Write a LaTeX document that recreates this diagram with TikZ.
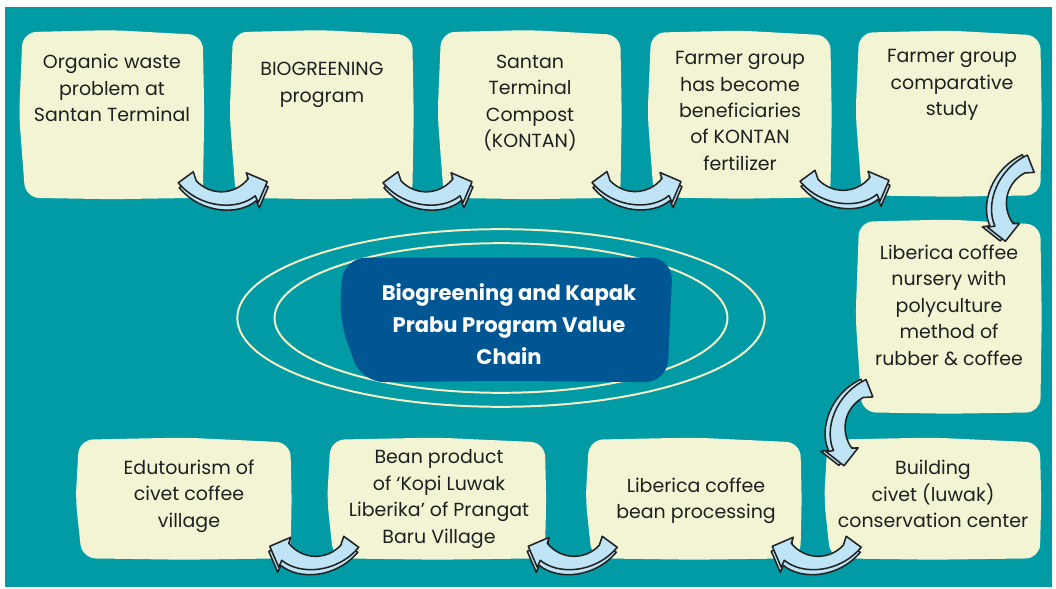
\documentclass[tikz,border=0pt]{standalone}
\usepackage{fontspec}
\setmainfont{Poppins}
\usetikzlibrary{positioning,calc}

\definecolor{tealbg}{RGB}{0,155,165}
\definecolor{paper}{RGB}{242,244,212}
\definecolor{chainblue}{RGB}{0,86,146}
\definecolor{ringline}{RGB}{247,240,196}
\definecolor{arrowfill}{RGB}{190,228,246}
\definecolor{inkline}{RGB}{35,35,35}

\tikzset{
  box/.style = {rectangle, inner sep=0pt},
  txt/.style = {align=center, text=black!88, font=\fontsize{13.5}{18.8}\selectfont},
  title/.style = {align=center, text=white, font=\bfseries\fontsize{15}{22.8}\selectfont},
  ring/.style = {draw=ringline, line width=1.4pt},
  swoosh/.style = {fill=arrowfill, draw=inkline, line width=1.1pt, line join=round},
}

% outline of one curled arrow, tail left, head right
\newcommand{\curlpath}{(-44,-8) -- (-29,-19) -- (-26,-10) .. controls (-12,5) and (12,5) .. (26,-12) -- (24,-18) -- (45,-9) -- (36,12) -- (33,5) .. controls (15,20) and (-22,18) .. cycle}
\tikzset{curl/.pic={
  \filldraw[swoosh, shift={(1,5)}] \curlpath;
  \filldraw[swoosh] \curlpath;
}}

% paper sheet behind a box node
\newcommand{\wavybox}[1]{%
  \fill[paper, rounded corners=10pt] ([xshift=3pt]#1.south west) -- ([xshift=-1.5pt]#1.west) -- ([xshift=1pt]#1.north west)
    -- ([yshift=1.5pt]#1.north) -- ([yshift=-2pt]#1.north east) -- ([xshift=1pt]#1.east)
    -- (#1.south east) -- ([yshift=-1pt]#1.south) -- cycle;}

\begin{document}
\begin{tikzpicture}[x=0.025cm, y=-0.025cm]
\useasboundingbox (0,0) rectangle (1056,589);
\fill[white] (0,0) rectangle (1056,589);
\fill[tealbg] (5,7) rectangle (1052,587);

% rings round the title
\draw[ring] (501,318) ellipse [x radius=6.59cm, y radius=2.22cm];
\draw[ring] (501,318) ellipse [x radius=5.66cm, y radius=1.87cm];

% boxes
\node[box, minimum width=4.525cm, minimum height=4.125cm] (organic) at (112,115) {};
\node[box, minimum width=4.5cm, minimum height=4.125cm] (biogreen) at (322,115) {};
\node[box, minimum width=4.5cm, minimum height=4.125cm] (kontan) at (530,115) {};
\node[box, minimum width=4.5cm, minimum height=4.1cm] (farmer) at (740,115) {};
\node[box, minimum width=4.55cm, minimum height=4.05cm] (study) at (949,114) {};
\node[box, minimum width=4.55cm, minimum height=4.75cm] (nursery) at (949,317) {};
\node[box, minimum width=5.325cm, minimum height=2.95cm] (civet) at (933,499) {};
\node[box, minimum width=5.3cm, minimum height=2.95cm] (beans) at (694,499) {};
\node[box, minimum width=5.375cm, minimum height=2.95cm] (luwak) at (437,499) {};
\node[box, minimum width=5.3cm, minimum height=2.95cm] (tourism) at (184,499) {};
\wavybox{organic} \wavybox{biogreen} \wavybox{kontan} \wavybox{farmer} \wavybox{study}
\wavybox{nursery} \wavybox{civet} \wavybox{beans} \wavybox{luwak} \wavybox{tourism}

\node[txt] (organic text) at (112,88) {Organic waste\\problem at\\Santan Terminal};
\node[txt] (biogreen text) at (322,85) {BIOGREENING\\program};
\node[txt] (kontan text) at (530,103) {Santan\\Terminal\\Compost\\(KONTAN)};
\node[txt] (farmer text) at (740,111) {Farmer group\\has become\\beneficiaries\\of KONTAN\\fertilizer};
\node[txt] (study text) at (952,85) {Farmer group\\comparative\\study};
\node[txt] (nursery text) at (949,305) {Liberica coffee\\nursery with\\polyculture\\method of\\rubber \& coffee};
\node[txt] (civet text) at (933,494) {Building\\civet (luwak)\\conservation center};
\node[txt] (beans text) at (696,501) {Liberica coffee\\bean processing};
\node[txt] (luwak text) at (439,499) {Bean product\\of ‘Kopi Luwak\\Liberika’ of Prangat\\Baru Village};
\node[txt] (tourism text) at (189,496) {Edutourism of\\civet coffee\\village};

% title in the middle
\node[box, minimum width=8.325cm, minimum height=3.1cm] (chain) at (506,320) {};
\fill[chainblue, rounded corners=16pt] ([xshift=16pt]chain.south west) -- (chain.west) -- ([xshift=3pt]chain.north west)
  -- (chain.north) -- (chain.north east) -- ([xshift=-2pt]chain.east) -- ([xshift=-4pt]chain.south east) -- ([yshift=1pt]chain.south) -- cycle;
\node[title] (chain text) at (509,324) {Biogreening and Kapak\\Prabu Program Value\\Chain};

% arrows between the boxes
\pic at ($(organic.south east)!.5!(biogreen.south west)+(5,-7)$) {curl};
\pic at ($(biogreen.south east)!.5!(kontan.south west)+(1,-7)$) {curl};
\pic at ($(kontan.south east)!.5!(farmer.south west)+(1,-7)$) {curl};
\pic at ($(farmer.south east)!.5!(study.south west)+(0,-7)$) {curl};
\pic[rotate=-105] at ($(study.south east)!.5!(nursery.north east)+(-32,-13)$) {curl};
\pic[rotate=-105] at ($(nursery.south west)!.5!(civet.north west)+(5,-6)$) {curl};
\pic[xscale=-1] at ($(civet.south west)!.5!(beans.south east)+(4,-3)$) {curl};
\pic[xscale=-1] at ($(beans.south west)!.5!(luwak.south east)+(7,-3)$) {curl};
\pic[xscale=-1] at ($(luwak.south west)!.5!(tourism.south east)+(5,-3)$) {curl};
\end{tikzpicture}
\end{document}
